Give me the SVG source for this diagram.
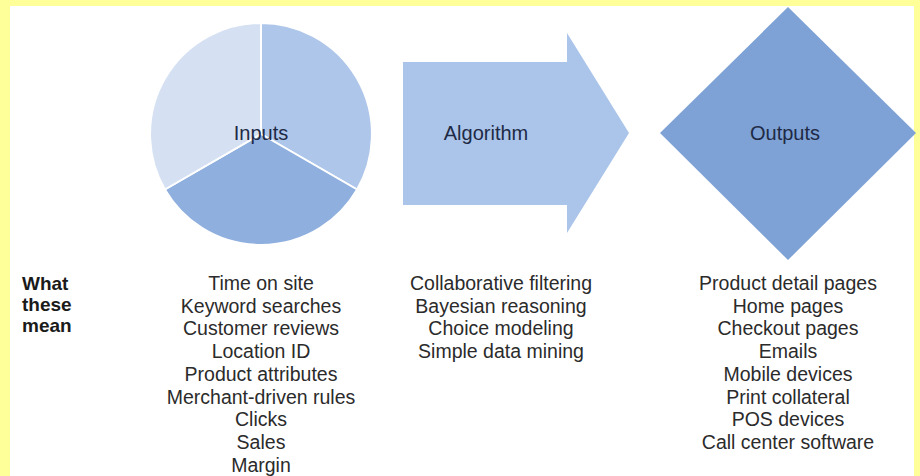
<svg xmlns="http://www.w3.org/2000/svg" width="920" height="476" viewBox="0 0 920 476">
  <style>
    .label { font-family: "Liberation Sans", Arial, sans-serif; font-size: 20px; fill: #1e2a45; text-anchor: middle; }
    .item { font-family: "Liberation Sans", Arial, sans-serif; font-size: 19.5px; fill: #2b2b2b; text-anchor: middle; }
    .head { font-family: "Liberation Sans", Arial, sans-serif; font-size: 19px; font-weight: bold; fill: #1a1a1a; }
    .slice { stroke: #ffffff; stroke-width: 2; stroke-linejoin: round; }
  </style>

  <!-- frame -->
  <rect x="0" y="0" width="920" height="476" fill="#ffff9a"/>
  <rect x="10" y="6" width="904" height="470" fill="#ffffff"/>

  <!-- Inputs: three-slice pie -->
  <g id="inputs">
    <path class="slice" d="M261,134 L261,23 A111,111 0 0 1 357.1,189.5 Z" fill="#aec6ea"/>
    <path class="slice" d="M261,134 L357.1,189.5 A111,111 0 0 1 164.9,189.5 Z" fill="#8fafdf"/>
    <path class="slice" d="M261,134 L164.9,189.5 A111,111 0 0 1 261,23 Z" fill="#d5e1f3"/>
    <text class="label" x="261" y="140">Inputs</text>
  </g>

  <!-- Algorithm: block arrow -->
  <g id="algorithm">
    <polygon points="403,62 567,62 567,33 629,133 567,233 567,205 403,205" fill="#abc5ea"/>
    <text class="label" x="486" y="140">Algorithm</text>
  </g>

  <!-- Outputs: diamond -->
  <g id="outputs">
    <polygon points="788,7 916,133 788,260 660,133" fill="#7fa2d6"/>
    <text class="label" x="785" y="140">Outputs</text>
  </g>

  <g id="connectors"/>

  <!-- row heading -->
  <g id="meaning-heading">
    <text class="head" x="22" y="290">What</text>
    <text class="head" x="22" y="311">these</text>
    <text class="head" x="22" y="332">mean</text>
  </g>

  <!-- input details -->
  <g id="inputs-list">
    <text class="item" x="261" y="290">Time on site</text>
    <text class="item" x="261" y="312.7">Keyword searches</text>
    <text class="item" x="261" y="335.4">Customer reviews</text>
    <text class="item" x="261" y="358.1">Location ID</text>
    <text class="item" x="261" y="380.8">Product attributes</text>
    <text class="item" x="261" y="403.5">Merchant-driven rules</text>
    <text class="item" x="261" y="426.2">Clicks</text>
    <text class="item" x="261" y="448.9">Sales</text>
    <text class="item" x="261" y="471.6">Margin</text>
  </g>

  <!-- algorithm details -->
  <g id="algorithm-list">
    <text class="item" x="501" y="290">Collaborative filtering</text>
    <text class="item" x="501" y="312.7">Bayesian reasoning</text>
    <text class="item" x="501" y="335.4">Choice modeling</text>
    <text class="item" x="501" y="358.1">Simple data mining</text>
  </g>

  <!-- output details -->
  <g id="outputs-list">
    <text class="item" x="788" y="290">Product detail pages</text>
    <text class="item" x="788" y="312.7">Home pages</text>
    <text class="item" x="788" y="335.4">Checkout pages</text>
    <text class="item" x="788" y="358.1">Emails</text>
    <text class="item" x="788" y="380.8">Mobile devices</text>
    <text class="item" x="788" y="403.5">Print collateral</text>
    <text class="item" x="788" y="426.2">POS devices</text>
    <text class="item" x="788" y="448.9">Call center software</text>
  </g>
</svg>
